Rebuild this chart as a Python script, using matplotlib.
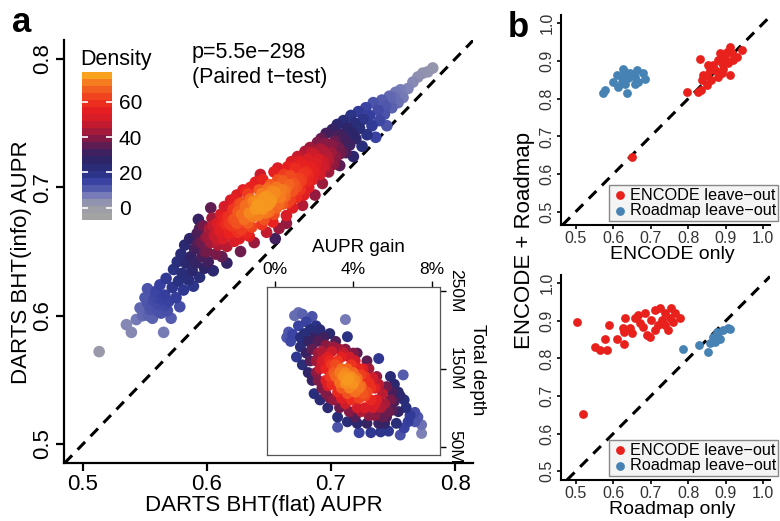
import numpy as np
import matplotlib
matplotlib.use('Agg')
import matplotlib.pyplot as plt
from matplotlib.colors import LinearSegmentedColormap, Normalize
from matplotlib.cm import ScalarMappable

plt.rcParams['font.family'] = ['Liberation Sans', 'DejaVu Sans']

# ---- painel a: AUPR flat vs info (aproximado) ----
pontos_a = [
    (0.513, 0.572), (0.535, 0.593), (0.539, 0.587), (0.543, 0.597), (0.546, 0.606), (0.548, 0.600),
    (0.550, 0.614), (0.552, 0.621), (0.554, 0.605), (0.556, 0.598), (0.557, 0.612), (0.559, 0.619), (0.553, 0.600),
    (0.555, 0.608), (0.558, 0.615), (0.560, 0.604), (0.563, 0.613), (0.566, 0.608), (0.552, 0.610),
    (0.561, 0.609), (0.562, 0.624), (0.563, 0.602), (0.565, 0.587), (0.566, 0.616), (0.567, 0.629), (0.568, 0.604), (0.569, 0.611),
    (0.571, 0.598), (0.572, 0.622), (0.573, 0.636), (0.575, 0.614), (0.576, 0.642), (0.577, 0.627), (0.578, 0.607), (0.579, 0.648),
    (0.580, 0.633), (0.581, 0.620), (0.582, 0.655), (0.583, 0.641), (0.585, 0.628), (0.586, 0.660), (0.587, 0.646), (0.588, 0.635), (0.589, 0.623),
    (0.590, 0.652), (0.591, 0.641), (0.592, 0.664), (0.594, 0.630), (0.595, 0.657), (0.596, 0.646), (0.597, 0.670), (0.598, 0.637), (0.599, 0.661), (0.593, 0.675),
    (0.592, 0.656), (0.594, 0.668), (0.598, 0.650),
    (0.600, 0.650), (0.601, 0.642), (0.602, 0.668), (0.603, 0.657), (0.604, 0.676), (0.605, 0.635), (0.606, 0.662), (0.607, 0.648), (0.608, 0.672), (0.609, 0.655), (0.603, 0.684),
    (0.601, 0.661), (0.605, 0.670), (0.608, 0.659),
    (0.610, 0.666), (0.611, 0.679), (0.612, 0.646), (0.613, 0.660), (0.614, 0.685), (0.615, 0.671), (0.616, 0.654), (0.617, 0.677), (0.618, 0.664), (0.619, 0.690), (0.612, 0.672), (0.616, 0.641),
    (0.611, 0.668), (0.614, 0.677), (0.618, 0.672),
    (0.620, 0.670), (0.621, 0.683), (0.622, 0.658), (0.623, 0.676), (0.624, 0.694), (0.625, 0.665), (0.626, 0.687), (0.627, 0.650), (0.628, 0.679), (0.629, 0.698), (0.622, 0.690), (0.624, 0.672), (0.626, 0.660), (0.628, 0.688),
    (0.621, 0.675), (0.625, 0.681), (0.628, 0.667),
    (0.630, 0.675), (0.631, 0.686), (0.632, 0.664), (0.633, 0.695), (0.634, 0.680), (0.635, 0.700), (0.636, 0.669), (0.637, 0.689), (0.638, 0.657), (0.639, 0.683), (0.631, 0.697), (0.633, 0.672), (0.635, 0.691), (0.637, 0.677), (0.639, 0.704), (0.634, 0.662),
    (0.640, 0.690), (0.641, 0.678), (0.642, 0.698), (0.643, 0.684), (0.644, 0.671), (0.645, 0.706), (0.646, 0.692), (0.647, 0.680), (0.648, 0.665), (0.649, 0.699), (0.641, 0.687), (0.643, 0.710), (0.645, 0.683), (0.646, 0.675), (0.648, 0.693), (0.649, 0.686), (0.644, 0.695),
    (0.650, 0.681), (0.651, 0.702), (0.652, 0.690), (0.653, 0.673), (0.654, 0.712), (0.655, 0.696), (0.656, 0.684), (0.657, 0.706), (0.658, 0.668), (0.659, 0.692), (0.651, 0.688), (0.652, 0.697), (0.654, 0.679), (0.656, 0.700), (0.657, 0.715), (0.658, 0.687), (0.655, 0.660),
    (0.660, 0.698), (0.661, 0.687), (0.662, 0.710), (0.663, 0.693), (0.664, 0.678), (0.665, 0.716), (0.666, 0.702), (0.667, 0.690), (0.668, 0.720), (0.669, 0.684), (0.661, 0.705), (0.663, 0.698), (0.665, 0.688), (0.667, 0.709), (0.669, 0.697), (0.664, 0.672),
    (0.670, 0.703), (0.671, 0.715), (0.672, 0.692), (0.673, 0.724), (0.674, 0.707), (0.675, 0.698), (0.676, 0.718), (0.677, 0.686), (0.678, 0.711), (0.679, 0.728), (0.672, 0.700), (0.674, 0.720), (0.676, 0.705), (0.678, 0.694),
    (0.680, 0.712), (0.681, 0.722), (0.682, 0.700), (0.683, 0.731), (0.684, 0.716), (0.685, 0.706), (0.686, 0.726), (0.687, 0.694), (0.688, 0.719), (0.689, 0.735), (0.682, 0.710), (0.686, 0.714),
    (0.681, 0.705), (0.684, 0.727), (0.687, 0.712), (0.689, 0.722),
    (0.690, 0.722), (0.691, 0.710), (0.692, 0.738), (0.693, 0.703), (0.694, 0.728), (0.695, 0.716), (0.696, 0.742), (0.697, 0.724), (0.698, 0.712), (0.699, 0.733), (0.694, 0.720),
    (0.691, 0.730), (0.693, 0.717), (0.696, 0.734), (0.698, 0.721),
    (0.700, 0.727), (0.701, 0.745), (0.702, 0.718), (0.703, 0.736), (0.704, 0.724), (0.705, 0.749), (0.706, 0.731), (0.707, 0.717), (0.708, 0.741), (0.709, 0.728),
    (0.701, 0.733), (0.704, 0.740), (0.707, 0.726),
    (0.710, 0.752), (0.711, 0.737), (0.712, 0.727), (0.713, 0.746), (0.715, 0.733), (0.716, 0.756), (0.717, 0.742), (0.718, 0.724), (0.719, 0.750),
    (0.720, 0.738), (0.722, 0.759), (0.723, 0.746), (0.725, 0.732), (0.726, 0.753), (0.728, 0.762), (0.729, 0.741),
    (0.731, 0.756), (0.733, 0.748), (0.734, 0.766), (0.736, 0.739), (0.738, 0.760), (0.739, 0.752),
    (0.741, 0.768), (0.743, 0.757), (0.745, 0.748), (0.747, 0.771), (0.749, 0.762),
    (0.744, 0.763), (0.748, 0.768), (0.751, 0.770),
    (0.752, 0.774), (0.754, 0.766), (0.756, 0.776), (0.758, 0.770), (0.762, 0.777), (0.766, 0.782),
    (0.770, 0.786), (0.774, 0.789), (0.778, 0.790), (0.782, 0.793),
]

# ---- inset: ganho de AUPR (%) vs profundidade total (M) ----
pontos_inset = [
    (0.6, 190), (0.7, 197), (0.9, 194), (1.0, 218), (0.8, 185),
    (1.2, 222), (1.4, 220), (1.1, 165), (1.3, 178), (1.4, 155), (1.2, 205), (1.5, 195), (1.3, 190),
    (1.6, 210), (1.9, 217), (1.8, 200), (1.7, 185), (1.6, 170), (1.9, 175), (1.8, 160), (2.0, 118), (1.7, 145), (2.0, 190), (1.9, 135),
    (2.1, 205), (2.3, 200), (2.2, 185), (2.4, 172), (2.1, 160), (2.3, 150), (2.2, 135), (2.4, 125), (2.1, 145), (2.5, 190), (2.3, 110), (2.4, 160), (2.2, 170),
    (2.6, 180), (2.8, 195), (2.7, 165), (2.9, 172), (2.6, 150), (2.8, 140), (2.7, 128), (2.9, 155), (2.6, 118), (3.0, 178), (2.8, 112), (2.7, 100), (3.0, 145), (2.9, 130), (2.6, 135), (2.8, 160),
    (3.1, 185), (3.3, 175), (3.2, 160), (3.4, 150), (3.1, 140), (3.3, 132), (3.2, 120), (3.4, 165), (3.0, 110), (3.3, 100), (3.2, 88), (3.1, 155), (3.4, 125), (3.5, 140), (3.3, 145), (3.2, 75), (3.4, 112), (3.5, 170),
    (3.6, 213), (3.7, 191), (3.6, 175), (3.8, 165), (3.7, 150), (3.9, 140), (3.6, 131), (3.8, 125), (3.7, 118), (3.9, 155), (4.0, 130), (3.6, 105), (3.8, 95), (3.7, 82), (3.9, 110), (4.0, 145), (3.6, 145), (3.8, 138), (3.7, 135), (4.0, 170),
    (4.1, 160), (4.3, 150), (4.2, 138), (4.4, 128), (4.1, 120), (4.3, 112), (4.2, 100), (4.4, 142), (4.1, 88), (4.3, 68), (4.2, 80), (4.4, 95), (4.5, 118), (4.1, 135), (4.3, 125), (4.5, 150), (4.2, 170),
    (4.6, 140), (4.8, 132), (4.7, 120), (4.9, 110), (4.6, 100), (4.8, 90), (4.7, 80), (4.9, 125), (5.0, 100), (4.6, 115), (4.9, 68), (4.8, 150), (4.7, 160), (5.0, 138),
    (5.1, 125), (5.3, 163), (5.2, 110), (5.4, 100), (5.1, 90), (5.3, 80), (5.4, 69), (5.2, 140), (5.5, 118), (5.1, 105), (5.3, 130), (5.5, 88),
    (5.6, 105), (5.8, 95), (5.7, 127), (5.9, 110), (5.6, 80), (5.8, 70), (5.9, 140), (6.0, 97), (5.7, 88), (6.0, 120),
    (6.1, 108), (6.3, 95), (6.2, 80), (6.4, 115), (6.4, 65), (6.1, 130), (6.3, 120),
    (6.55, 142), (6.6, 74), (6.7, 100), (6.9, 90), (6.8, 82), (6.6, 110),
    (7.15, 94), (7.15, 82), (7.49, 78), (7.49, 67), (7.3, 88),
]

# ---- painel b ----
encode_so_x = [0.649, 0.796, 0.827, 0.835, 0.836, 0.849, 0.858, 0.867, 0.880, 0.889, 0.903, 0.916, 0.943, 0.929,
               0.911, 0.889, 0.862, 0.871, 0.893, 0.907, 0.920, 0.849, 0.880, 0.898, 0.853, 0.911, 0.884, 0.840, 0.831]
encode_so_y = [0.646, 0.819, 0.819, 0.823, 0.850, 0.862, 0.876, 0.889, 0.903, 0.894, 0.925, 0.920, 0.929, 0.911,
               0.863, 0.867, 0.850, 0.876, 0.880, 0.894, 0.903, 0.836, 0.858, 0.907, 0.889, 0.938, 0.920, 0.862, 0.905]
roadmap_out_x_top = [0.574, 0.578, 0.600, 0.614, 0.623, 0.631, 0.636, 0.631, 0.640, 0.623, 0.609, 0.663, 0.667,
                     0.680, 0.685, 0.658, 0.645, 0.627, 0.658]
roadmap_out_y_top = [0.814, 0.823, 0.845, 0.832, 0.858, 0.872, 0.814, 0.838, 0.854, 0.845, 0.863, 0.876, 0.845,
                     0.867, 0.851, 0.858, 0.867, 0.878, 0.838]

encode_out_x_bot = [0.505, 0.519, 0.551, 0.564, 0.583, 0.577, 0.590, 0.609, 0.630, 0.631, 0.629, 0.645, 0.649,
                    0.671, 0.667, 0.685, 0.698, 0.702, 0.711, 0.724, 0.729, 0.738, 0.747, 0.751, 0.755, 0.764,
                    0.778, 0.720, 0.680, 0.658, 0.689, 0.627, 0.711, 0.738, 0.760]
encode_out_y_bot = [0.898, 0.652, 0.831, 0.822, 0.823, 0.851, 0.889, 0.851, 0.839, 0.908, 0.870, 0.880, 0.867,
                    0.894, 0.916, 0.920, 0.858, 0.902, 0.929, 0.933, 0.902, 0.920, 0.876, 0.907, 0.933, 0.920,
                    0.907, 0.889, 0.884, 0.907, 0.862, 0.880, 0.876, 0.889, 0.898]
roadmap_out_x_bot = [0.785, 0.829, 0.854, 0.858, 0.867, 0.876, 0.885, 0.893, 0.907, 0.911, 0.871, 0.880]
roadmap_out_y_bot = [0.825, 0.836, 0.818, 0.840, 0.858, 0.871, 0.853, 0.876, 0.880, 0.878, 0.845, 0.867]

cor_encode = '#e8211d'
cor_roadmap = '#4682b4'

# paleta de densidade (cinza -> azul -> roxo -> vermelho -> laranja)
ancoras = [(-7, '#a3a3a3'), (0, '#9a9aaa'), (5, '#7c80b8'), (10, '#5058ac'), (15, '#363ea0'),
           (20, '#28307f'), (27, '#2e2468'), (33, '#4a1f5a'), (38, '#7a1a48'), (44, '#a81a38'),
           (50, '#d41c2a'), (57, '#e8201f'), (63, '#ef3a1f'), (68, '#f25a1f'), (73, '#f57e1f'),
           (77, '#f8a21e')]
vmin, vmax = -7, 77
cmap = LinearSegmentedColormap.from_list(
    'dens', [((v - vmin) / (vmax - vmin), c) for v, c in ancoras])
norm = Normalize(vmin, vmax)


def densidade(x, y, hx, hy, p=2.0):
    dx = (x[:, None] - x[None, :]) / hx
    dy = (y[:, None] - y[None, :]) / hy
    d = np.exp(-0.5 * (dx ** 2 + dy ** 2)).sum(axis=1)
    return 76 * (d / d.max()) ** p


flat_aupr, info_aupr = np.array(pontos_a).T
ganho, profund = np.array(pontos_inset).T
dens_a = densidade(flat_aupr, info_aupr, 0.028, 0.028, 2.0)
dens_in = densidade(ganho, profund, 1.1, 28, 1.7)

fig = plt.figure(figsize=(7.8, 5.21), dpi=100)

# painel a
ax = fig.add_axes([0.0821, 0.1113, 0.5244, 0.8119])
o = np.argsort(dens_a)
ax.scatter(flat_aupr[o], info_aupr[o], c=dens_a[o], cmap=cmap, norm=norm, s=70, linewidths=0, zorder=3)
ax.axline((0.5, 0.5), slope=1, color='black', lw=2.2, dashes=(3.5, 2.6), zorder=2)
ax.set_xlim(0.4847, 0.8145)
ax.set_ylim(0.4852, 0.8148)
for lado in ['top', 'right']:
    ax.spines[lado].set_visible(False)
for lado in ['left', 'bottom']:
    ax.spines[lado].set_linewidth(1.6)
ax.set_xticks([0.5, 0.6, 0.7, 0.8])
ax.set_xticklabels(['0.5', '0.6', '0.7', '0.8'])
ax.set_yticks([0.5, 0.6, 0.7, 0.8])
ax.set_yticklabels(['0.5', '0.6', '0.7', '0.8'], rotation=90, va='center')
ax.tick_params(length=6, width=1.6, labelsize=16)
ax.tick_params(axis='x', pad=2)
ax.tick_params(axis='y', pad=2)
fig.text(0.3385, 0.029, 'DARTS BHT(flat) AUPR', fontsize=16, ha='center', va='center')
fig.text(0.0282, 0.497, 'DARTS BHT(info) AUPR', fontsize=16, ha='center', va='center', rotation=90)

fig.text(0.2458, 0.888, 'p=5.5e\u2212298', fontsize=15.5, ha='left', va='baseline')
fig.text(0.2458, 0.841, '(Paired t\u2212test)', fontsize=15.5, ha='left', va='baseline')

# barra de cores
cax = fig.add_axes([0.1055, 0.5777, 0.0377, 0.2846])
cb = fig.colorbar(ScalarMappable(norm=norm, cmap=cmap.resampled(21)), cax=cax, ticks=[0, 20, 40, 60])
cb.outline.set_visible(False)
cax.tick_params(left=True, right=True, direction='in', length=4, width=1.2, color='white',
                labelsize=15, pad=5)
fig.text(0.1026, 0.8752, 'Density', fontsize=15.5, ha='left', va='baseline')

# inset
axin = fig.add_axes([0.3427, 0.1267, 0.2214, 0.323])
o = np.argsort(dens_in)
axin.scatter(ganho[o], profund[o], c=dens_in[o], cmap=cmap, norm=norm, s=62, linewidths=0)
axin.set_xlim(-0.39, 8.43)
axin.set_ylim(39.4, 255.1)
axin.xaxis.tick_top()
axin.yaxis.tick_right()
axin.set_xticks([0, 4, 8])
axin.set_xticklabels(['0%', '4%', '8%'])
axin.set_yticks([50, 150, 250])
axin.set_yticklabels(['50M', '150M', '250M'], rotation=-90, va='center')
axin.tick_params(labelsize=12.5, length=4, width=1)
axin.tick_params(axis='x', pad=3)
axin.tick_params(axis='y', pad=1.5)
for sp in axin.spines.values():
    sp.set_linewidth(0.9)
    sp.set_color('#555555')
fig.text(0.459, 0.524, 'AUPR gain', fontsize=13.5, ha='center', va='center')
fig.text(0.6128, 0.29, 'Total depth', fontsize=13.5, ha='center', va='center', rotation=-90)

fig.text(0.0154, 0.9386, 'a', fontsize=25, fontweight='bold', ha='left', va='baseline')
fig.text(0.651, 0.9296, 'b', fontsize=25, fontweight='bold', ha='left', va='baseline')


def painel_b(pos, ylim, ex, ey, rx, ry, xlabel, ylab_y):
    axb = fig.add_axes(pos)
    axb.scatter(ex, ey, s=40, color=cor_encode, linewidths=0, label='ENCODE leave\u2212out', zorder=3)
    axb.scatter(rx, ry, s=40, color=cor_roadmap, linewidths=0, label='Roadmap leave\u2212out', zorder=3)
    axb.axline((0.5, 0.5), slope=1, color='black', lw=2.2, dashes=(3.5, 2.6), zorder=2)
    axb.set_xlim(0.461, 1.018)
    axb.set_ylim(*ylim)
    for lado in ['top', 'right']:
        axb.spines[lado].set_visible(False)
    for lado in ['left', 'bottom']:
        axb.spines[lado].set_linewidth(1.5)
    tk = [0.5, 0.6, 0.7, 0.8, 0.9, 1.0]
    axb.set_xticks(tk)
    axb.set_xticklabels(['%.1f' % t for t in tk])
    axb.set_yticks(tk)
    axb.set_yticklabels(['%.1f' % t for t in tk], rotation=90, va='center')
    axb.tick_params(length=3, width=1.2, labelsize=11.5, labelcolor='#333333', pad=1.5)
    leg = axb.legend(loc='lower right', bbox_to_anchor=(1.04, 0.02), borderaxespad=0,
                     fontsize=11.7, handletextpad=0.1, handlelength=1.0, borderpad=0.15,
                     labelspacing=0.05, fancybox=False, edgecolor='#888888',
                     facecolor='#f4f4f4', framealpha=1)
    leg.get_frame().set_linewidth(1.0)
    fig.text(0.8615, ylab_y, xlabel, fontsize=14, ha='center', va='center')
    return axb


painel_b([0.7192, 0.5681, 0.268, 0.4031], (0.465, 1.022), encode_so_x, encode_so_y,
         roadmap_out_x_top, roadmap_out_y_top, 'ENCODE only', 0.5106)
painel_b([0.7192, 0.0787, 0.268, 0.3935], (0.477, 1.022), encode_out_x_bot, encode_out_y_bot,
         roadmap_out_x_bot, roadmap_out_y_bot, 'Roadmap only', 0.022)
fig.text(0.673, 0.539, 'ENCODE + Roadmap', fontsize=16, ha='center', va='center', rotation=90)

fig.savefig('out.png', dpi=100)
